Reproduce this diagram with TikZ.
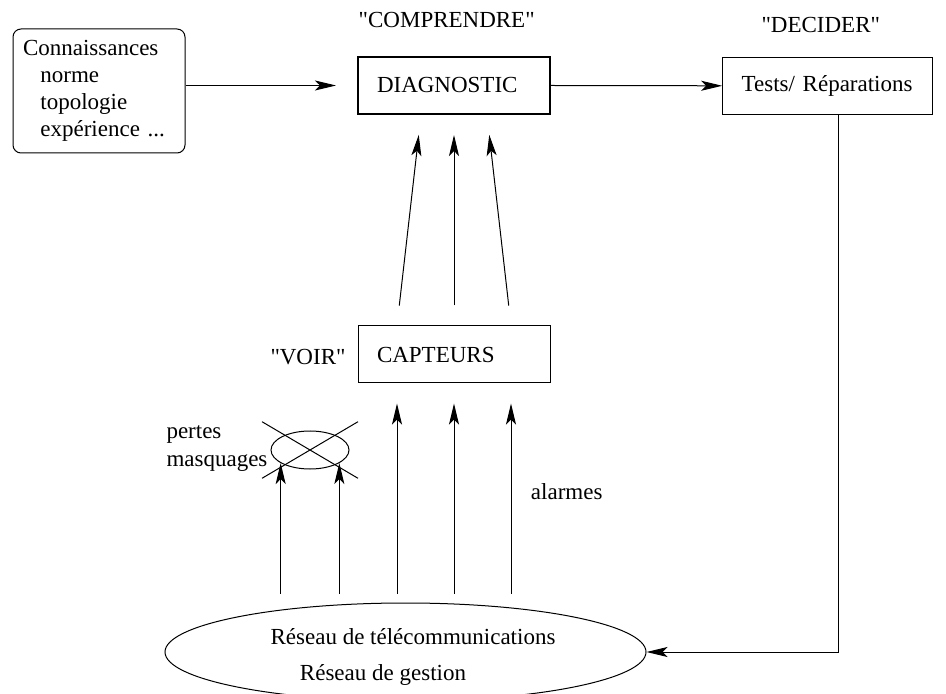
\documentclass[tikz,border=0pt]{standalone}
\usepackage{fontspec}
\setmainfont{Liberation Serif}
\usetikzlibrary{arrows.meta, shapes.geometric}

\begin{document}
\begin{tikzpicture}[x=0.5pt, y=-0.5pt, line width=0.5pt,
  font=\fontsize{11.5}{13.5}\selectfont,
  fleche/.style={-{Stealth[length=10.5pt, width=5pt, inset=2.5pt]}},
  boite/.style={draw, minimum height=28.5pt, align=left, inner xsep=9.5pt, inner ysep=0pt},
  etiq/.style={inner sep=0pt}]
\useasboundingbox (0,0) rectangle (946,694);
\node[draw, rounded corners=4pt, text width=76pt, inner xsep=5pt, minimum height=62pt, align=left] (conn) at (99,91)
  {Connaissances\\\hspace*{8.7pt}norme\\\hspace*{8.7pt}topologie\\\hspace*{8.7pt}expérience ...};
\node[boite, line width=1pt, text width=77pt] (diag) at (454,85.5) {DIAGNOSTIC};
\node[boite, text width=86pt] (tests) at (827.7,85.8) {Tests/ Réparations};
\node[boite, text width=77pt] (capt) at (454,354.5) {CAPTEURS};
\node[draw, ellipse, inner sep=0pt, minimum width=240.5pt, minimum height=49pt] (reseau) at (405.5,652) {};
\node[draw, ellipse, inner sep=0pt, minimum width=39pt, minimum height=19pt] (perte) at (310,450) {};

\node[etiq] (comprendre) at (446.7,20) {\textquotedbl COMPRENDRE\textquotedbl};
\node[etiq] (decider) at (820.8,25) {\textquotedbl DECIDER\textquotedbl};
\node[etiq] (voir) at (308,357) {\textquotedbl VOIR\textquotedbl};
\node[etiq, anchor=west] (pertes) at (166,434) {pertes};
\node[etiq, anchor=west] (masq) at (166,463) {masquages};
\node[etiq] (alarmes) at (566.7,491.7) {alarmes};
\node[etiq] (tele) at (413,637) {Réseau de télécommunications};
\node[etiq] (gestion) at (383,675) {Réseau de gestion};

\draw[fleche, shorten >=10.5pt] (conn.east |- diag.west) -- (diag.west);
\draw[fleche] (diag.east) -- (tests.west);
\draw[fleche] ([xshift=5.15pt]tests.south) |- (reseau.east);
\foreach \a/\b in {-57/-33, 0/0, 57/33}
  \draw[fleche, shorten <=10pt, shorten >=10pt] ([xshift=\a*0.5pt]capt.north) -- ([xshift=\b*0.5pt]diag.south);
\foreach \a in {-57, 0, 57}
  \draw[fleche, shorten <=4.5pt, shorten >=10pt] ([xshift=\a*0.5pt]capt.south |- reseau.north) -- ([xshift=\a*0.5pt]capt.south);
\draw[fleche, shorten <=4.5pt] (perte.204 |- reseau.north) -- (perte.204);
\draw[fleche, shorten <=4.5pt] (perte.336 |- reseau.north) -- (perte.336);
\draw (perte.center) ++(-48,-28.3) -- ++(96,56.6);
\draw (perte.center) ++(-48,28.3) -- ++(96,-56.6);
\end{tikzpicture}
\end{document}
